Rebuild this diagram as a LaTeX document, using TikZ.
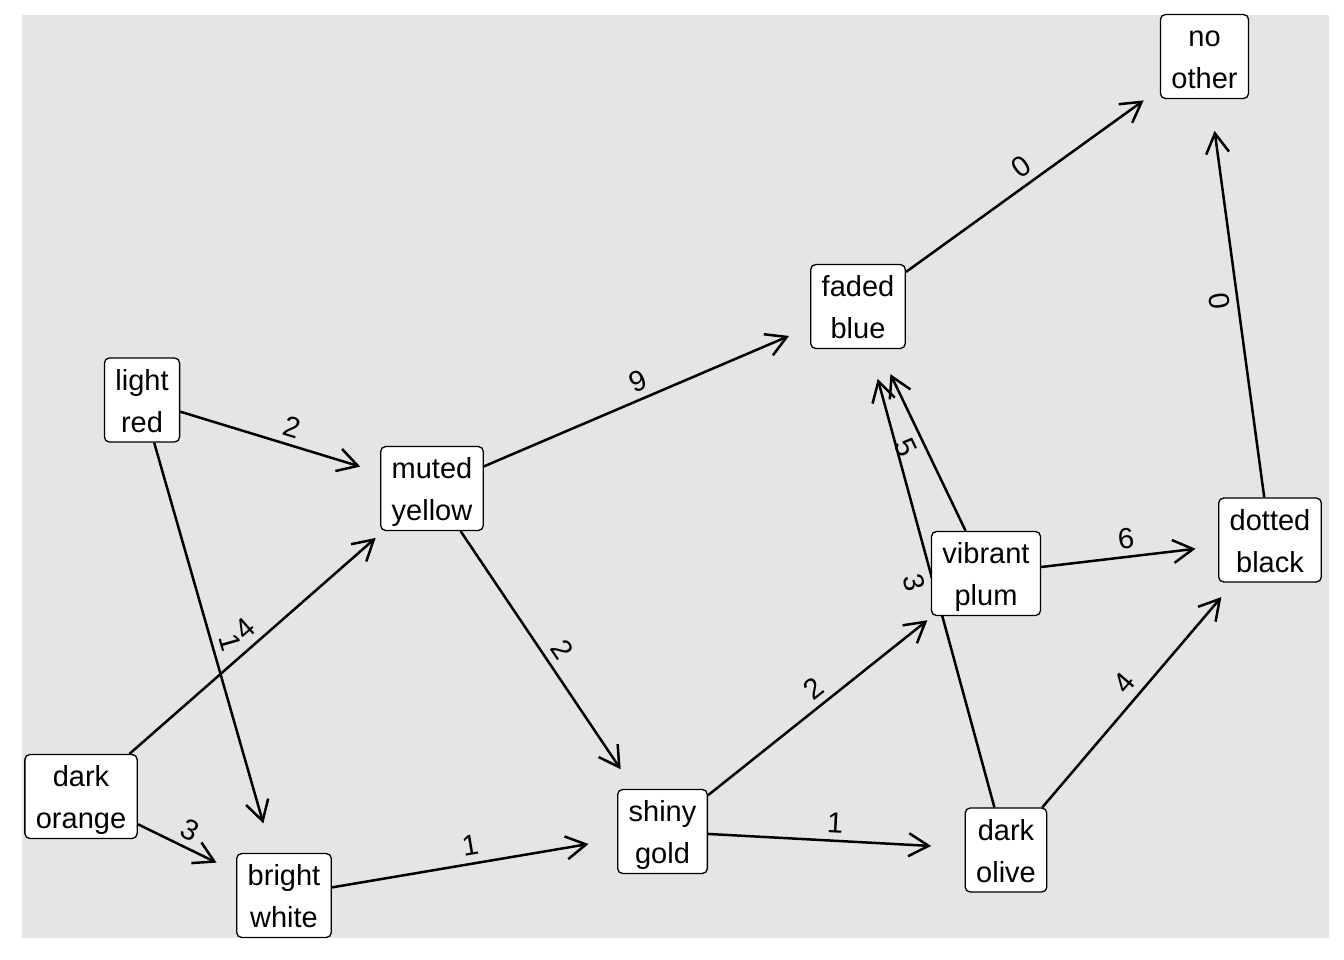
\documentclass[tikz,border=0pt]{standalone}
\usepackage{fontspec}
\setmainfont{Liberation Sans}
\usetikzlibrary{arrows.meta,calc}
\definecolor{panelgrey}{RGB}{229,229,229}
\pgfdeclarelayer{back}
\pgfsetlayers{back,main}
\tikzset{
  box/.style={draw=black, fill=white, line width=1.3pt, rounded corners=5pt,
    align=center, inner xsep=11pt, inner ysep=0pt,
    font=\fontsize{29}{42}\selectfont},
  link/.style={line width=2.5pt, -{Straight Barb[length=20pt,width=23pt]}},
  weight/.style={inner sep=0pt, font=\fontsize{29}{42}\selectfont},
}
% line strut: 32.4pt above the baseline, 9.6pt below
\newcommand{\bagstrut}{\rule[-9.6pt]{0pt}{42pt}}
% two-line node label with struts for uniform box height
\newcommand{\twolines}[2]{\bagstrut #1\\\bagstrut #2}
% edge: source, target, weight, text angle
\newcommand{\drawlink}[4]{%
  \begin{pgfonlayer}{back}
    \draw[link] (#1) -- ($(#2)!75pt!(#1)$);
  \end{pgfonlayer}
  \node[weight, rotate=#4] at ($(#1)!0.5!(#2)!18pt!90:(#2)$) {#3};
}
\begin{document}
\begin{tikzpicture}[x=1pt, y=-1pt]
  \useasboundingbox (0,0) rectangle (1344,960);
  \begin{pgfonlayer}{back}
    \fill[panelgrey] (22,15) rectangle (1329,938);
  \end{pgfonlayer}

  % bags
  \node[box] (noother)  at (1204.5,56.5) {\twolines{no}{other}};
  \node[box] (faded)    at (858,306.5)   {\twolines{faded}{blue}};
  \node[box] (lightred) at (142,400)     {\twolines{light}{red}};
  \node[box] (muted)    at (432,488.5)   {\twolines{muted}{yellow}};
  \node[box] (plum)     at (986,573.5)   {\twolines{vibrant}{plum}};
  \node[box] (dotted)   at (1270,540)    {\twolines{dotted}{black}};
  \node[box] (orange)   at (81,796.5)    {\twolines{dark}{orange}};
  \node[box] (gold)     at (662.5,831.5) {\twolines{shiny}{gold}};
  \node[box] (olive)    at (1006,850)    {\twolines{dark}{olive}};
  \node[box] (white)    at (284,895.5)   {\twolines{bright}{white}};

  % contents
  \drawlink{lightred}{muted}{2}{-17}
  \drawlink{lightred}{white}{1}{-74}
  \drawlink{orange}{muted}{4}{41.3}
  \drawlink{orange}{white}{3}{-26}
  \drawlink{muted}{faded}{9}{23.1}
  \drawlink{muted}{gold}{2}{-56.1}
  \drawlink{white}{gold}{1}{9.6}
  \drawlink{faded}{noother}{0}{35.8}
  \drawlink{gold}{plum}{2}{38.6}
  \drawlink{gold}{olive}{1}{-3.1}
  \drawlink{plum}{faded}{5}{-64.4}
  \drawlink{olive}{faded}{3}{-74.8}
  \drawlink{plum}{dotted}{6}{6.7}
  \drawlink{olive}{dotted}{4}{49.6}
  \drawlink{dotted}{noother}{0}{-82.3}
\end{tikzpicture}
\end{document}
